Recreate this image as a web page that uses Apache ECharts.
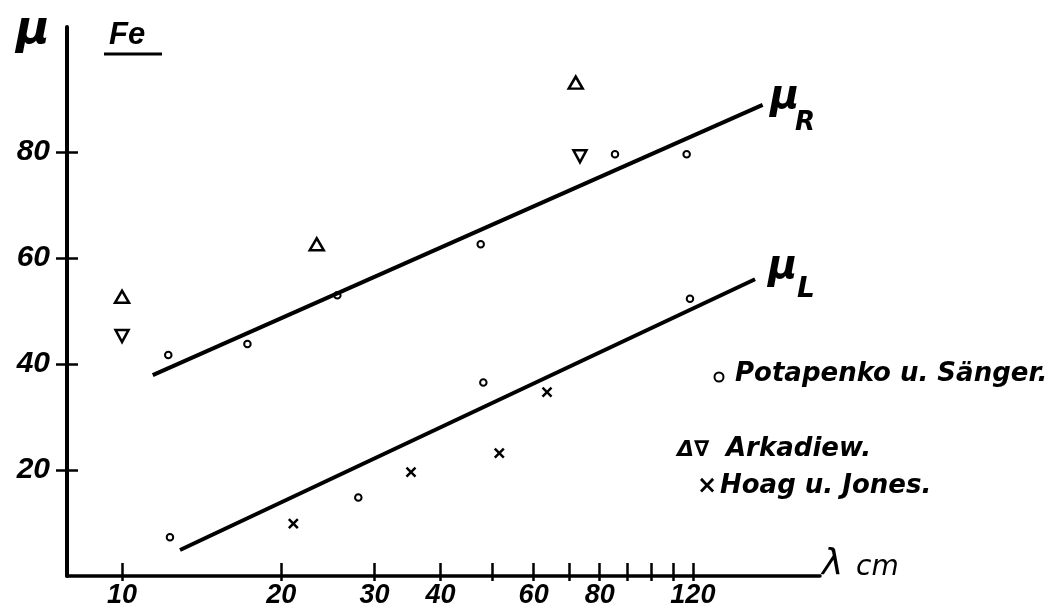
<!DOCTYPE html>
<html><head><meta charset="utf-8">
<script src="https://cdn.jsdelivr.net/npm/echarts@6/dist/echarts.min.js"></script>
<style>html,body{margin:0;padding:0;background:#fff}#c{width:1054px;height:611px}</style>
</head><body><div id="c"></div>
<script>
// λ (cm) , μ values
const potapenkoR = [[12.23,41.7],[17.26,43.8],[25.53,53.0],[47.65,62.6],[85.5,79.6],[116.8,79.6]];
const potapenkoL = [[12.32,7.3],[27.97,14.8],[48.2,36.5],[118.5,52.3]];
const arkadiewUp = [[10.0,52.7],[23.34,62.6],[72.06,93.1]];
const arkadiewDown = [[10.0,45.3],[73.4,79.2]];
const hoagJones = [[21.08,9.9],[35.18,19.6],[51.67,23.2],[63.6,34.7]];
const lineR = [[11.43,37.9],[162.6,88.9]];
const lineL = [[12.87,4.9],[157.3,56.0]];
const xTicks = [10,20,30,40,50,60,70,80,90,100,110,120];
const xLabels = [10,20,30,40,60,80,120];
const yTicks = [20,40,60,80];

const DIG = {fontFamily:'Liberation Sans', fontStyle:'italic', fontWeight:'bold', color:'#000'};
const TXT = {fontFamily:'DejaVu Sans', fontStyle:'oblique', fontWeight:'bold'};
const chart = echarts.init(document.getElementById('c'), null, {renderer:'canvas'});
const GW = 1054-67-234, GH = 611-27-35;
function txt(text, x, y, size, extra) {
  return {type:'text', z:10, style:Object.assign({text, x, y, fontSize:size, fill:'#000', align:'left', verticalAlign:'middle'}, TXT, extra||{})};
}
const MARK = {color:'#fff', borderColor:'#000', opacity:1};
chart.setOption({
  animation:false,
  backgroundColor:'#fff',
  grid:{left:67, right:234, top:27, bottom:35, containLabel:false, outerBoundsMode:'none'},
  xAxis:[
    {type:'log', logBase:10, min:7.87, max:208.7, position:'bottom',
     axisLine:{onZero:false, lineStyle:{color:'#000', width:3.5}},
     axisTick:{show:true, customValues:xTicks, length:5, lineStyle:{color:'#000', width:2.5}},
     axisLabel:{customValues:xLabels, margin:6, fontSize:27, ...DIG},
     splitLine:{show:false}, minorTick:{show:false}},
    {type:'log', logBase:10, min:7.87, max:208.7, position:'top', offset:-GH,
     axisLine:{show:false},
     axisTick:{show:true, customValues:xTicks, length:13, lineStyle:{color:'#000', width:2.5}},
     axisLabel:{show:false}, splitLine:{show:false}}
  ],
  yAxis:[
    {type:'value', min:0, max:103.6, interval:20, position:'left',
     axisLine:{show:true, onZero:false, lineStyle:{color:'#000', width:4}},
     axisTick:{show:true, customValues:yTicks, length:11, lineStyle:{color:'#000', width:2.5}},
     axisLabel:{customValues:yTicks, margin:17, fontSize:30, ...DIG},
     splitLine:{show:false}},
    {type:'value', min:0, max:103.6, interval:20, position:'right', offset:-GW,
     axisLine:{show:false},
     axisTick:{show:true, customValues:yTicks, length:11, lineStyle:{color:'#000', width:2.5}},
     axisLabel:{show:false}, splitLine:{show:false}}
  ],
  series:[
    {name:'μR', type:'line', data:lineR, symbol:'none', lineStyle:{color:'#000', width:4}},
    {name:'μL', type:'line', data:lineL, symbol:'none', lineStyle:{color:'#000', width:4}},
    {name:'Potapenko u. Sänger', type:'scatter', data:potapenkoR.concat(potapenkoL), symbol:'circle', symbolSize:6.5,
     itemStyle:Object.assign({borderWidth:2}, MARK)},
    {name:'Arkadiew', type:'scatter', data:arkadiewUp, symbol:'triangle', symbolSize:[14,12],
     itemStyle:Object.assign({borderWidth:2.5}, MARK)},
    {name:'Arkadiew ', type:'scatter', data:arkadiewDown, symbol:'triangle', symbolRotate:180, symbolSize:[13,12],
     itemStyle:Object.assign({borderWidth:2.5}, MARK)},
    {name:'Hoag u. Jones', type:'scatter', data:hoagJones, symbol:'path://M0,0L10,10M0,10L10,0', symbolSize:9,
     itemStyle:{color:'rgba(0,0,0,0)', borderColor:'#000', borderWidth:2.5, opacity:1}}
  ],
  graphic:[
    // y axis name
    txt('μ', 16, 31, 46),
    // title Fe with underline
    {type:'text', z:10, style:{text:'Fe', x:109, y:35, fontSize:31, fill:'#000', align:'left', verticalAlign:'middle', fontFamily:'Liberation Sans', fontStyle:'italic', fontWeight:'bold'}},
    {type:'line', z:10, shape:{x1:104, y1:54, x2:162, y2:54}, style:{stroke:'#000', lineWidth:3}},
    // line labels
    txt('μ', 770, 98, 40), txt('R', 795, 123, 26),
    txt('μ', 768, 268, 40), txt('L', 797, 290, 28),
    // x axis name
    txt('λ', 822, 565, 36, {fontWeight:'normal'}), txt('cm', 856, 568, 28, {fontWeight:'normal'}),
    // legend
    {type:'circle', z:10, shape:{cx:719, cy:377, r:4.5}, style:{fill:'#fff', stroke:'#000', lineWidth:2}},
    txt('Potapenko u. Sänger.', 735, 374, 26),
    txt('Δ∇', 677, 450, 22),
    txt('Arkadiew.', 726, 449, 26),
    txt('×', 697, 487, 24),
    txt('Hoag u. Jones.', 720, 486, 26)
  ]
});
</script></body></html>
